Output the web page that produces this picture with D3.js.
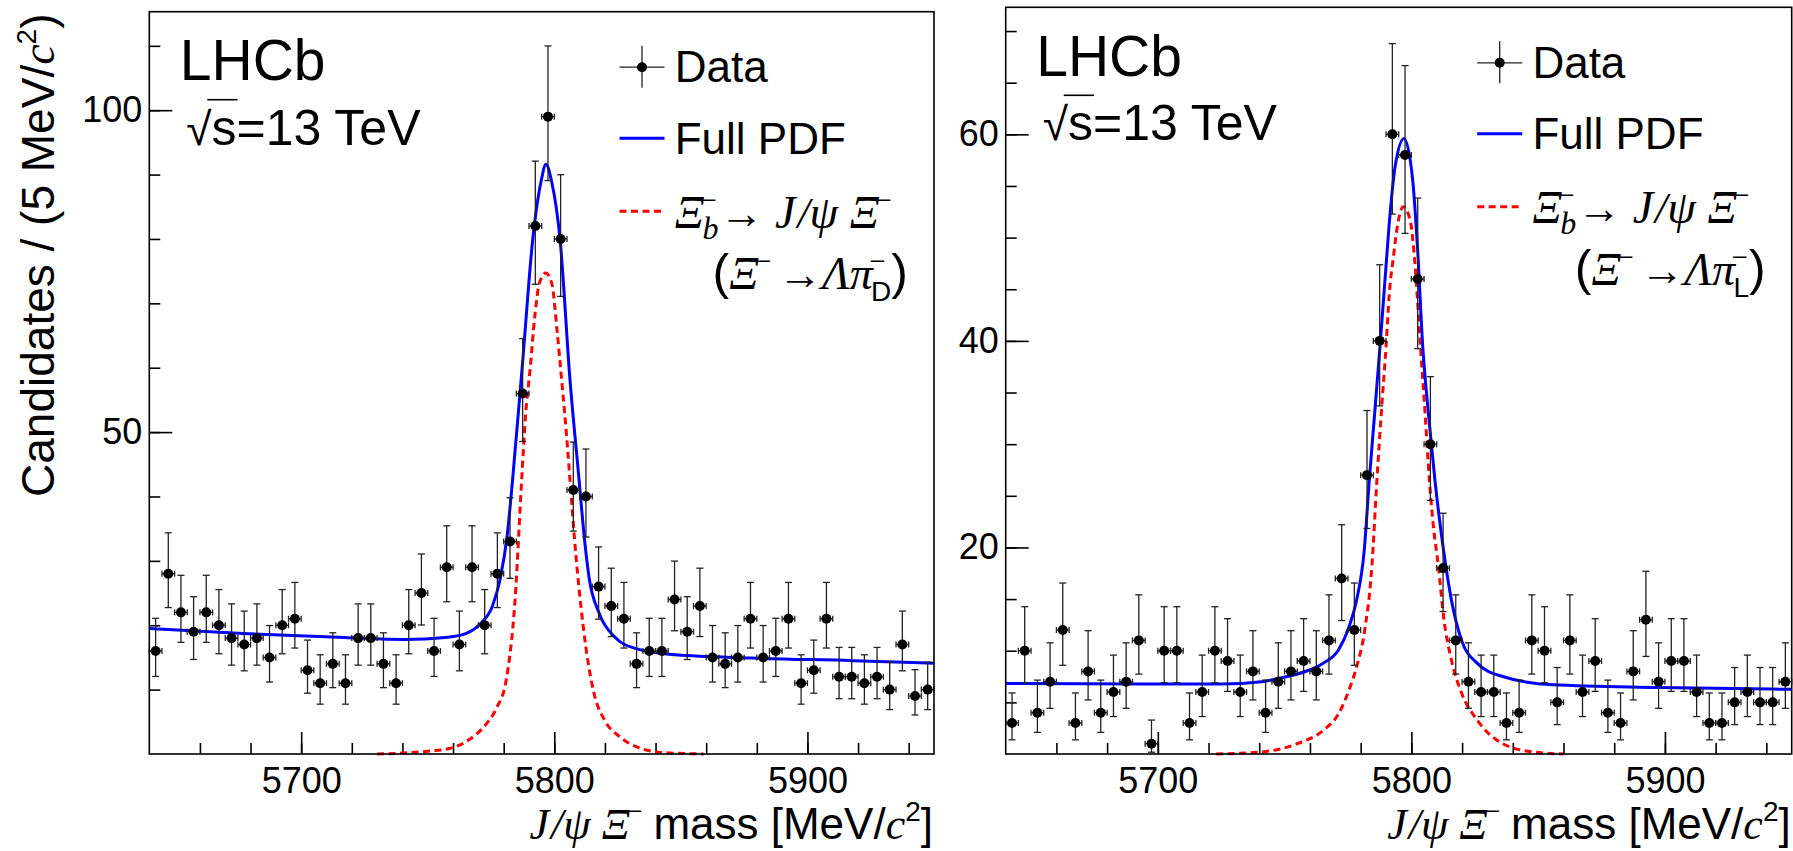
<!DOCTYPE html>
<html lang="en">
<head>
<meta charset="UTF-8">
<title>J/psi Xi- mass fits</title>
<script src="https://cdnjs.cloudflare.com/ajax/libs/d3/7.8.5/d3.min.js"></script>
<style>
  body { margin: 0; background: #fff; }
  svg { display: block; font-family: "Liberation Sans", Arial, Helvetica, sans-serif; }
  .frame { fill: none; stroke: #000; stroke-width: 1.6; }
  .axis .domain { display: none; }
  .axis .tick line { stroke: #000; stroke-width: 1.6; }
  .axis .tick text { font-size: 36px; fill: #000; font-family: "Liberation Sans", Arial, sans-serif; }
  .err { stroke: #222; stroke-width: 1.3; fill: none; }
  .pdf { fill: none; stroke: #0000ff; stroke-width: 3; }
  .sig { fill: none; stroke: #ff0000; stroke-width: 3; stroke-dasharray: 7 4.5; }
  text { fill: #000; }
</style>
</head>
<body>
<svg id="chart" width="1793" height="851"></svg>
<script>
// --- Data (5 MeV bins from 5640 to 5950) ---
const binCentres = d3.range(5642.5, 5950, 5);

// candidates per bin, Xi- -> Lambda pi- with downstream tracks
const countsDD = [16, 28, 22, 19, 22, 20, 18, 17, 18, 15,
                  20, 21, 13, 11, 14, 11, 18, 18, 14, 11,
                  20, 25, 16, 29, 17, 29, 20, 28, 33, 56,
                  82, 99, 80, 41, 40, 26, 23, 21, 14, 16,
                  16, 24, 19, 23, 15, 14, 15, 21, 15, 16,
                  21, 11, 13, 21, 12, 12, 11, 12, 10, 17,
                  9, 10];
// candidates per bin, long tracks
const countsLL = [3, 10, 4, 7, 12, 3, 8, 4, 6, 7,
                  11, 1, 10, 10, 3, 6, 10, 9, 6, 8,
                  4, 7, 8, 9, 8, 11, 17, 12, 27, 40,
                  60, 58, 46, 30, 18, 11, 7, 6, 6, 3,
                  4, 11, 10, 5, 11, 6, 9, 4, 3, 8,
                  13, 7, 9, 9, 6, 3, 3, 5, 6, 5,
                  5, 7];

// fitted curves: [mass, candidates]
const pdfDD = [[5640, 19.5], [5677, 18.7], [5717, 18.1], [5741, 17.8], [5757, 18.1], [5765, 18.7],
               [5771, 20.3], [5775.5, 22.9], [5778.5, 27.0], [5781.4, 34.0], [5783.5, 42.5],
               [5787.5, 61.0], [5791.5, 80.0], [5794.8, 89.0], [5796.7, 91.6], [5798.9, 89.0],
               [5802.3, 79.8], [5806.2, 58.1], [5809.8, 42.5], [5811.5, 35.0], [5813.7, 27.5],
               [5817.8, 21.8], [5823.8, 18.2], [5832, 16.4], [5848, 15.4], [5878, 14.9],
               [5918, 14.5], [5950, 14.1]];
const sigDD = [[5730, 0], [5749, 0.4], [5759, 0.9], [5767, 2.4], [5773.4, 4.8], [5777.4, 7.3],
               [5781, 11.5], [5784.5, 24.0], [5787.1, 42.5], [5788.7, 52.9], [5790.4, 59.6],
               [5792.4, 68.4], [5794.1, 73.1], [5796.6, 74.7], [5799, 73.1], [5801.2, 65.3],
               [5802.9, 58.1], [5805.2, 47.7], [5806.2, 42.5], [5808.5, 31], [5810.5, 23],
               [5812.5, 16.5], [5815.7, 9.4], [5819.8, 5.3], [5825.8, 2.7], [5833.9, 0.9],
               [5844, 0.2], [5859, 0]];
const pdfLL = [[5640, 6.84], [5695, 6.77], [5725, 6.77], [5741, 7.0], [5751, 7.5], [5759, 8.06],
               [5765.3, 8.8], [5771.3, 10.1], [5775.4, 12.3], [5778.4, 14.9], [5781.4, 19.7],
               [5783.4, 26.5], [5785, 31.4], [5787.6, 39.4], [5789.6, 45.9], [5791.6, 52.3],
               [5793.6, 56.9], [5797.1, 59.6], [5800.5, 55.6], [5802.4, 49.1], [5804.5, 39.4],
               [5806.7, 33], [5809.3, 26.5], [5812.7, 19.7], [5815.8, 14.9], [5819.8, 11],
               [5825.9, 8.8], [5836, 7.5], [5856, 6.7], [5897, 6.45], [5950, 6.26]];
const sigLL = [[5723, 0], [5741, 0.2], [5755, 1.0], [5765.3, 2.3], [5771.3, 3.9], [5775.4, 6.2],
               [5778.4, 8.45], [5781.4, 11.7], [5784.4, 18.1], [5786.4, 26.5], [5788.3, 33.6],
               [5790, 39.4], [5791.3, 44.6], [5792.9, 48.1], [5794.9, 51.7], [5796.8, 53.0],
               [5799.5, 51.7], [5801.5, 47.2], [5803.4, 40.1], [5805.4, 33], [5807.1, 26.5],
               [5808.7, 22], [5810.7, 18.1], [5812.7, 13.3], [5815.8, 9.1], [5819.8, 5.9],
               [5825.9, 3.3], [5836, 1.0], [5848, 0.2], [5860, 0]];

const xTicks = [5700, 5800, 5900];
const xMinor = d3.range(5660, 5950, 20);
const yTicksDD = [50, 100];
const yTicksLL = [20, 40, 60];

// --- Layout ---
const panels = [
  { counts: countsDD, pdf: pdfDD, sig: sigDD, yMax: 115.3, yTicks: yTicksDD,
    yMinor: d3.range(10, 115, 10), box: { x0: 149.3, x1: 934, y0: 11.7, y1: 754 }, trk: "D" },
  { counts: countsLL, pdf: pdfLL, sig: sigLL, yMax: 72.3, yTicks: yTicksLL,
    yMinor: d3.range(5, 72, 5), box: { x0: 1005.7, x1: 1791.7, y0: 7.3, y1: 754 }, trk: "L" }
];

const svg = d3.select("#chart");
const SERIF = "'Liberation Serif', 'Times New Roman', serif";

// Garwood-style Poisson interval (Wilson-Hilferty approximation)
function poissonLo(n) { return n === 0 ? 0 : n * Math.pow(1 - 1 / (9 * n) - 1 / (3 * Math.sqrt(n)), 3); }
function poissonHi(n) { const m = n + 1; return m * Math.pow(1 - 1 / (9 * m) + 1 / (3 * Math.sqrt(m)), 3); }

// text made of pieces (italic greek, super/subscripts)
function rich(sel, x, y, anchor, parts, baseSize) {
  const t = sel.append("text").attr("x", x).attr("y", y)
    .attr("text-anchor", anchor).attr("font-size", baseSize);
  parts.forEach(p => {
    t.append("tspan")
      .attr("dx", p.dx || 0).attr("dy", p.dy || 0)
      .attr("font-family", p.serif ? SERIF : null)
      .attr("font-style", p.it ? "italic" : null)
      .attr("font-size", p.size || null)
      .text(p.t);
  });
  return t;
}

panels.forEach(P => {
  const b = P.box;
  const x = d3.scaleLinear().domain([5640, 5950]).range([b.x0, b.x1]);
  const y = d3.scaleLinear().domain([0, P.yMax]).range([b.y1, b.y0]);
  const g = svg.append("g");

  // axes (ticks point inside the frame)
  g.append("g").attr("class", "axis").attr("transform", `translate(0,${b.y1})`)
    .call(d3.axisBottom(x).tickValues(xMinor).tickSize(-11).tickFormat(""));
  g.append("g").attr("class", "axis").attr("transform", `translate(0,${b.y1})`)
    .call(d3.axisBottom(x).tickValues(xTicks).tickSize(-22).tickPadding(13).tickFormat(d3.format("d")))
    .selectAll(".tick text").attr("y", 13);
  g.append("g").attr("class", "axis").attr("transform", `translate(${b.x0},0)`)
    .call(d3.axisLeft(y).tickValues(P.yMinor).tickSize(-11).tickFormat(""));
  g.append("g").attr("class", "axis").attr("transform", `translate(${b.x0},0)`)
    .call(d3.axisLeft(y).tickValues(P.yTicks).tickSize(-23).tickPadding(7).tickFormat(d3.format("d")))
    .selectAll(".tick text").attr("x", -7);

  // fitted curves
  const line = d3.line().x(d => x(d[0])).y(d => y(d[1])).curve(d3.curveMonotoneX);
  g.append("path").attr("class", "sig").attr("d", line(P.sig));
  g.append("path").attr("class", "pdf").attr("d", line(P.pdf));

  // data points with errors
  const pts = g.append("g").selectAll("g").data(binCentres.map((c, i) => ({ c, n: P.counts[i] })))
    .join("g");
  pts.append("line").attr("class", "err")
    .attr("x1", d => x(d.c)).attr("x2", d => x(d.c))
    .attr("y1", d => y(poissonLo(d.n))).attr("y2", d => y(poissonHi(d.n)));
  [poissonLo, poissonHi].forEach(f => {
    pts.append("line").attr("class", "err")
      .attr("x1", d => x(d.c) - 3.5).attr("x2", d => x(d.c) + 3.5)
      .attr("y1", d => y(f(d.n))).attr("y2", d => y(f(d.n)));
  });
  pts.append("line").attr("class", "err")
    .attr("x1", d => x(d.c - 2.5)).attr("x2", d => x(d.c + 2.5))
    .attr("y1", d => y(d.n)).attr("y2", d => y(d.n));
  [-2.5, 2.5].forEach(o => {
    pts.append("line").attr("class", "err")
      .attr("x1", d => x(d.c + o)).attr("x2", d => x(d.c + o))
      .attr("y1", d => y(d.n) - 3).attr("y2", d => y(d.n) + 3);
  });
  pts.append("circle").attr("cx", d => x(d.c)).attr("cy", d => y(d.n)).attr("r", 5).attr("fill", "#000");

  // frame
  g.append("rect").attr("class", "frame")
    .attr("x", b.x0).attr("y", b.y0).attr("width", b.x1 - b.x0).attr("height", b.y1 - b.y0);

  // LHCb label and energy
  g.append("text").attr("x", b.x0 + 30.5).attr("y", b.y0 + 68.5).attr("font-size", 57).text("LHCb");
  const en = g.append("text").attr("x", b.x0 + 37).attr("y", b.y0 + 133).attr("font-size", 50);
  en.append("tspan").attr("font-size", 46).text("\u221A");
  en.append("tspan").text("s=13 TeV");
  const s1 = en.node().getEndPositionOfChar(1);
  const r0 = en.node().getStartPositionOfChar(0);
  g.append("line").attr("x1", r0.x + 21).attr("x2", s1.x + 1)
    .attr("y1", b.y0 + 133 - 45).attr("y2", b.y0 + 133 - 45)
    .attr("stroke", "#000").attr("stroke-width", 1.6);

  // legend
  const lx0 = b.x1 - 314.5, lx1 = b.x1 - 269.5, tx = b.x1 - 259.3;
  const yD = b.y0 + 55.5, yF = b.y0 + 126.5, yS = b.y0 + 199.5;
  const lc = (lx0 + lx1) / 2;
  g.append("line").attr("class", "err").attr("x1", lx0).attr("x2", lx1).attr("y1", yD).attr("y2", yD);
  g.append("line").attr("class", "err").attr("x1", lc).attr("x2", lc).attr("y1", yD - 21.5).attr("y2", yD + 20.5);
  g.append("circle").attr("cx", lc).attr("cy", yD).attr("r", 5).attr("fill", "#000");
  g.append("text").attr("x", tx).attr("y", yD + 15).attr("font-size", 44).text("Data");

  g.append("line").attr("class", "pdf").attr("x1", lx0).attr("x2", lx1).attr("y1", yF).attr("y2", yF);
  g.append("text").attr("x", tx).attr("y", yF + 15.5).attr("font-size", 44).text("Full PDF");

  g.append("line").attr("class", "sig").attr("x1", lx0).attr("x2", lx1).attr("y1", yS).attr("y2", yS);
  rich(g, tx, yS + 16.5, "start", [
    { t: "\u039E", serif: true, it: true, size: 46 },
    { t: "\u2013", size: 24, dy: -22, dx: -2 },
    { t: "b", serif: true, it: true, size: 32, dx: -13, dy: 33 },
    { t: "\u2192", size: 44, dx: 1, dy: -11 },
    { t: " J", serif: true, it: true, size: 46 },
    { t: "/", serif: true, it: true, dx: 2 },
    { t: "\u03C8", serif: true, it: true, size: 46 },
    { t: " \u039E", serif: true, it: true, size: 46 },
    { t: "\u2013", size: 24, dy: -22, dx: -2 }
  ], 44);
  rich(g, b.x1 - 26, yS + 78, "end", [
    { t: "(", size: 50 },
    { t: "\u039E", serif: true, it: true, size: 46 },
    { t: "\u2013", size: 24, dy: -22, dx: -2 },
    { t: "\u2192", size: 44, dx: 8, dy: 22 },
    { t: "\u039B\u03C0", serif: true, it: true, size: 46 },
    { t: "\u2013", size: 24, dy: -22, dx: -2 },
    { t: P.trk, size: 28, dx: -13, dy: 34 },
    { t: ")", size: 50, dy: -12 }
  ], 44);

  // x title
  rich(g, b.x1 - 1, 839, "end", [
    { t: "J", serif: true, it: true },
    { t: "/", serif: true, it: true, dx: 2 },
    { t: "\u03C8", serif: true, it: true },
    { t: " \u039E", serif: true, it: true },
    { t: "\u2013", size: 24, dy: -22, dx: -2 },
    { t: "  mass [MeV/", dy: 22 },
    { t: "c", serif: true, it: true },
    { t: "2", size: 28, dy: -18 },
    { t: "]", dy: 18 }
  ], 44);
});

// y title (left panel only)
const yt = rich(svg, -13.5, 54, "end", [
  { t: "Candidates / (5 MeV/" },
  { t: "c", serif: true, it: true },
  { t: "2", size: 28, dy: -18 },
  { t: ")", dy: 18 }
], 46);
yt.attr("transform", "rotate(-90)");
</script>
</body>
</html>
